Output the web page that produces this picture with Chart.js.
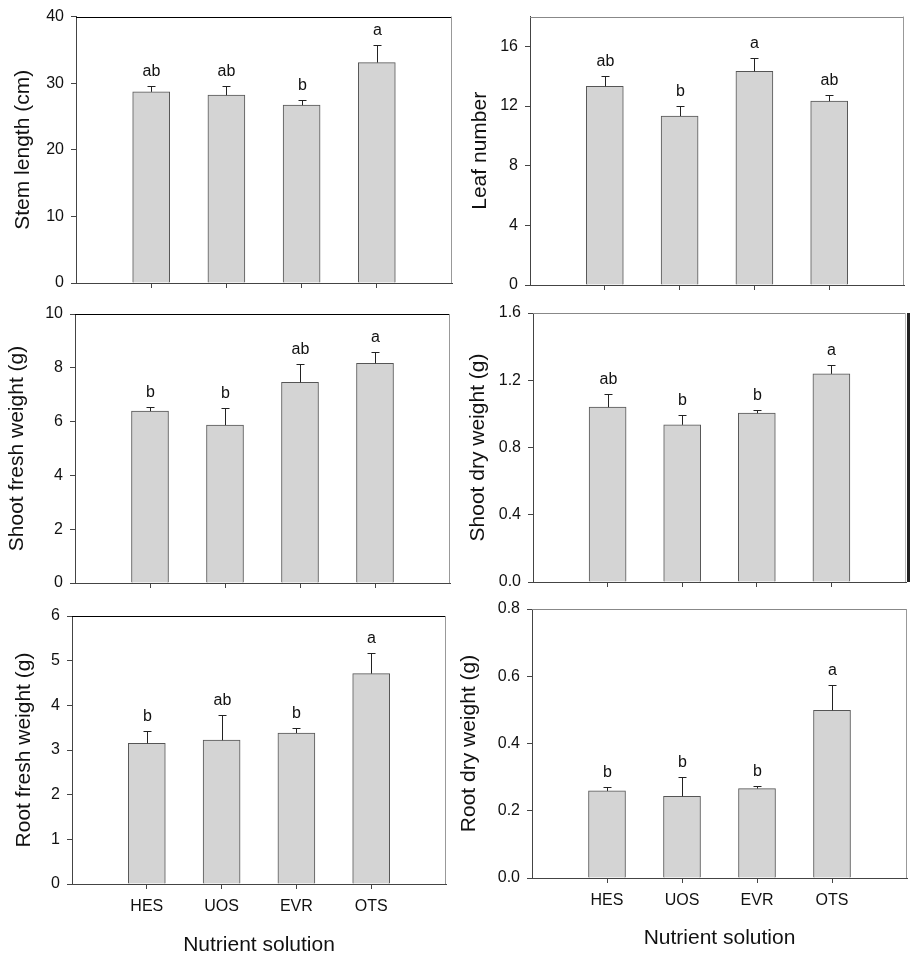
<!DOCTYPE html>
<html>
<head>
<meta charset="utf-8">
<title>Nutrient solution</title>
<script src="https://cdn.jsdelivr.net/npm/chart.js@4.4.1/dist/chart.umd.min.js"></script>
<style>
  body { margin: 0; background: #fff; }
  #wrap { position: relative; width: 917px; height: 962px; }
  #wrap canvas { position: absolute; left: 0; top: 0; }
</style>
</head>
<body>
<div id="wrap">
  <canvas id="stem" width="917" height="962"></canvas>
  <canvas id="leaf" width="917" height="962"></canvas>
  <canvas id="shootFresh" width="917" height="962"></canvas>
  <canvas id="shootDry" width="917" height="962"></canvas>
  <canvas id="rootFresh" width="917" height="962"></canvas>
  <canvas id="rootDry" width="917" height="962"></canvas>
</div>
<script>
const categories = ['HES', 'UOS', 'EVR', 'OTS'];

const stemLength = [28.7, 28.2, 26.7, 33.1];
const stemLengthSe = [0.9, 1.4, 0.8, 2.7];
const stemLengthLetters = ['ab', 'ab', 'b', 'a'];

const leafNumber = [13.33, 11.33, 14.33, 12.33];
const leafNumberSe = [0.7, 0.7, 0.9, 0.38];
const leafNumberLetters = ['ab', 'b', 'a', 'ab'];

const shootFresh = [6.39, 5.87, 7.46, 8.17];
const shootFreshSe = [0.17, 0.63, 0.67, 0.41];
const shootFreshLetters = ['b', 'b', 'ab', 'a'];

const shootDry = [1.04, 0.935, 1.004, 1.238];
const shootDrySe = [0.079, 0.059, 0.02, 0.053];
const shootDryLetters = ['ab', 'b', 'b', 'a'];

const rootFresh = [3.15, 3.22, 3.38, 4.71];
const rootFreshSe = [0.27, 0.56, 0.12, 0.46];
const rootFreshLetters = ['b', 'ab', 'b', 'a'];

const rootDry = [0.259, 0.243, 0.266, 0.499];
const rootDrySe = [0.012, 0.057, 0.008, 0.075];
const rootDryLetters = ['b', 'b', 'b', 'a'];

const FONT = '"Liberation Sans", Arial, sans-serif';
Chart.defaults.font.family = FONT;
Chart.defaults.color = '#111';

// empty slots at both ends so the 4 bars sit at 1..4 of a 0..5 axis
const xLabels = ['', ...categories, ''];

// error bars (upper only) and letters above them
const errorBars = {
    id: 'errorBars',
    afterDatasetsDraw(chart) {
        const ds = chart.data.datasets[0];
        const meta = chart.getDatasetMeta(0);
        const y = chart.scales.y;
        const ctx = chart.ctx;
        ctx.save();
        ctx.strokeStyle = '#222';
        ctx.lineWidth = 1;
        ctx.fillStyle = '#111';
        ctx.font = '16px ' + FONT;
        ctx.textAlign = 'center';
        ctx.textBaseline = 'alphabetic';
        ds.means.forEach((m, i) => {
            const x = Math.round(meta.data[i + 1].x) + 0.5;
            const yBar = y.getPixelForValue(m);
            const yTop = Math.round(y.getPixelForValue(m + ds.se[i])) + 0.5;
            ctx.beginPath();
            ctx.moveTo(x, yBar);
            ctx.lineTo(x, yTop);
            ctx.moveTo(x - 4, yTop);
            ctx.lineTo(x + 4, yTop);
            ctx.stroke();
            ctx.fillText(ds.letters[i], x, yTop - 11);
        });
        ctx.restore();
    }
};

// top and right side of the box
const frame = {
    id: 'frame',
    afterDraw(chart, args, opts) {
        const a = chart.chartArea;
        const ctx = chart.ctx;
        const top = Math.round(a.top) + 0.5;
        const right = Math.round(a.right) - 0.5;
        ctx.save();
        ctx.lineWidth = 1;
        ctx.strokeStyle = opts.top;
        ctx.beginPath();
        ctx.moveTo(a.left, top);
        ctx.lineTo(a.right, top);
        ctx.stroke();
        ctx.strokeStyle = opts.right;
        ctx.beginPath();
        ctx.moveTo(right, a.top);
        ctx.lineTo(right, a.bottom);
        ctx.stroke();
        if (opts.heavy) {
            ctx.fillStyle = '#222';
            ctx.fillRect(Math.round(a.right) + 1, a.top, 3, a.bottom - a.top);
        }
        ctx.restore();
    }
};

function makePanel(id, p) {
    const padLeft = p.tx - 10.5;
    const showX = !!p.xTitle;
    const xHeight = showX ? p.xh : 10;
    new Chart(document.getElementById(id), {
        type: 'bar',
        data: {
            labels: xLabels,
            datasets: [{
                data: [null, ...p.means, null],
                means: p.means,
                se: p.se,
                letters: p.letters,
                backgroundColor: '#d4d4d4',
                borderColor: '#555',
                borderWidth: 1,
                barThickness: 37
            }]
        },
        options: {
            responsive: false,
            animation: false,
            layout: {
                padding: {
                    left: padLeft,
                    top: p.t,
                    right: 917 - p.r,
                    bottom: 962 - p.b - xHeight
                }
            },
            plugins: {
                legend: { display: false },
                tooltip: { enabled: false },
                frame: { top: p.topColor, right: p.rightColor, heavy: !!p.heavy }
            },
            scales: {
                x: {
                    type: 'category',
                    offset: false,
                    grid: {
                        offset: false,
                        drawOnChartArea: false,
                        tickLength: 5,
                        color: c => (c.index === 0 || c.index === 5) ? 'rgba(0,0,0,0)' : '#444'
                    },
                    border: { display: true, color: '#444' },
                    ticks: {
                        display: showX,
                        autoSkip: false,
                        maxRotation: 0,
                        padding: 8,
                        font: { size: 16 }
                    },
                    title: {
                        display: showX,
                        text: p.xTitle || '',
                        font: { size: 21, lineHeight: 1 },
                        padding: 0
                    },
                    afterFit: s => { s.height = xHeight; }
                },
                y: {
                    min: 0,
                    max: p.max,
                    grid: {
                        drawOnChartArea: false,
                        tickLength: 5,
                        color: '#444'
                    },
                    border: { display: true, color: '#444' },
                    ticks: {
                        stepSize: p.step,
                        includeBounds: false,
                        padding: 7,
                        font: { size: 16 },
                        callback: v => v.toFixed(p.dec)
                    },
                    title: {
                        display: true,
                        text: p.yTitle,
                        font: { size: 21, lineHeight: 1 },
                        padding: 0
                    },
                    afterFit: s => { s.width = p.l - padLeft; }
                }
            }
        },
        plugins: [errorBars, frame]
    });
}

makePanel('stem', {
    means: stemLength, se: stemLengthSe, letters: stemLengthLetters,
    yTitle: 'Stem length (cm)', max: 40, step: 10, dec: 0,
    l: 76, t: 14, r: 452, b: 283, tx: 23, topColor: '#000', rightColor: '#999'
});
makePanel('leaf', {
    means: leafNumber, se: leafNumberSe, letters: leafNumberLetters,
    yTitle: 'Leaf number', max: 18, step: 4, dec: 0,
    l: 530, t: 16, r: 904, b: 285, tx: 480, topColor: '#888', rightColor: '#999'
});
makePanel('shootFresh', {
    means: shootFresh, se: shootFreshSe, letters: shootFreshLetters,
    yTitle: 'Shoot fresh weight (g)', max: 10, step: 2, dec: 0,
    l: 75, t: 314, r: 450, b: 583, tx: 17, topColor: '#000', rightColor: '#999'
});
makePanel('shootDry', {
    means: shootDry, se: shootDrySe, letters: shootDryLetters,
    yTitle: 'Shoot dry weight (g)', max: 1.6, step: 0.4, dec: 1,
    l: 533, t: 313, r: 906, b: 582, tx: 478, topColor: '#888', rightColor: '#bbb', heavy: true
});
makePanel('rootFresh', {
    means: rootFresh, se: rootFreshSe, letters: rootFreshLetters,
    yTitle: 'Root fresh weight (g)', max: 6, step: 1, dec: 0,
    l: 72, t: 616, r: 446, b: 884, tx: 24, topColor: '#000', rightColor: '#999',
    xTitle: 'Nutrient solution', xh: 71.5
});
makePanel('rootDry', {
    means: rootDry, se: rootDrySe, letters: rootDryLetters,
    yTitle: 'Root dry weight (g)', max: 0.8, step: 0.2, dec: 1,
    l: 532, t: 609, r: 907, b: 878, tx: 469, topColor: '#888', rightColor: '#999',
    xTitle: 'Nutrient solution', xh: 70.5
});
</script>
</body>
</html>
